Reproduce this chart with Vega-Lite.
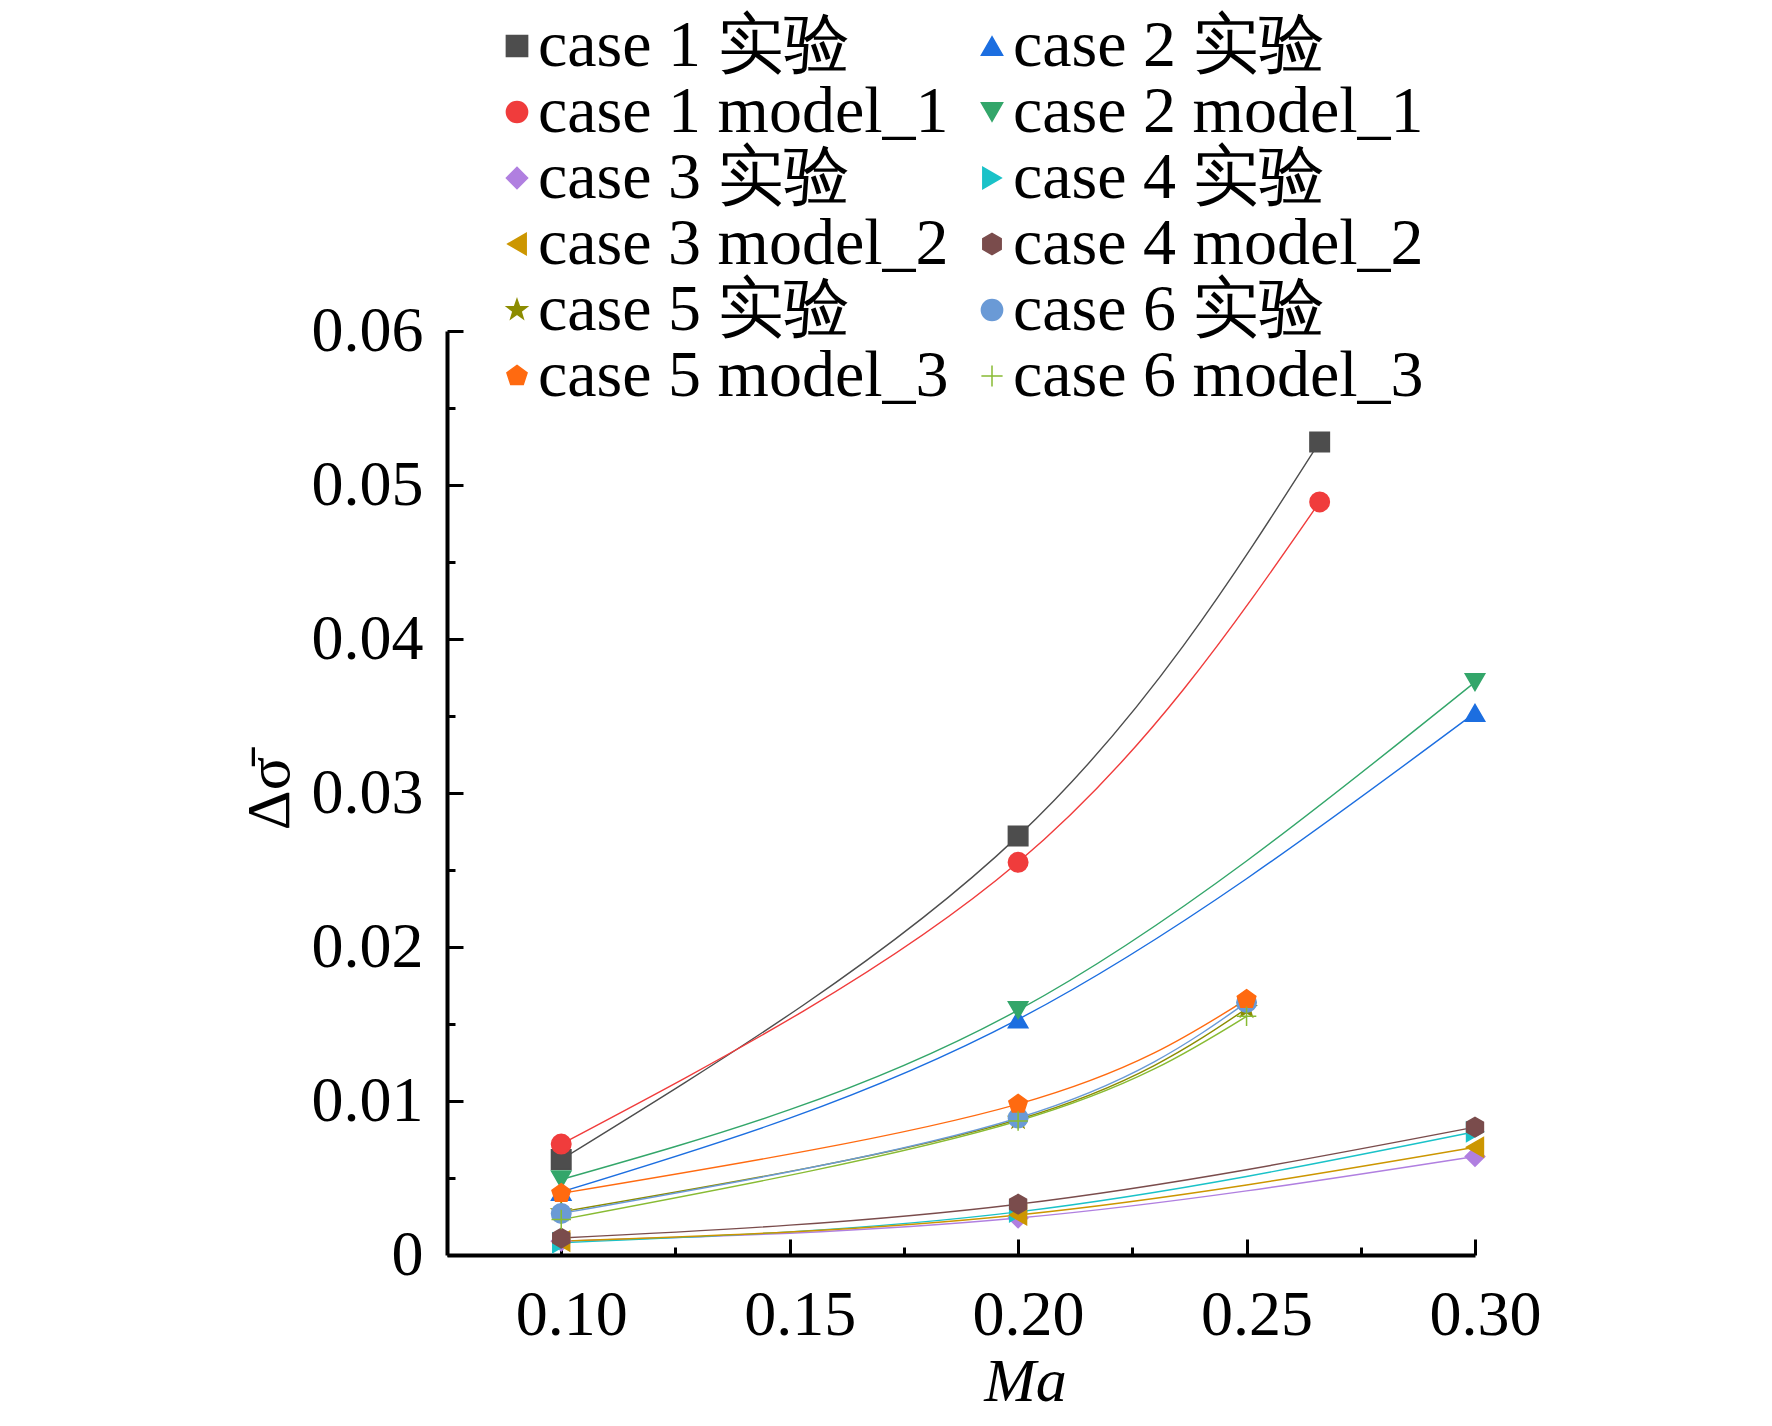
{
  "$schema": "https://vega.github.io/schema/vega-lite/v6.json",
  "autosize": "none",
  "width": 1028,
  "height": 924,
  "padding": {"left": 447, "top": 331, "right": 297, "bottom": 171},
  "background": "white",
  "config": {
    "view": {"stroke": null},
    "font": "Liberation Serif",
    "axis": {
      "grid": false,
      "domainColor": "black",
      "domainWidth": 4,
      "tickColor": "black",
      "tickWidth": 3,
      "labelFont": "Liberation Serif",
      "labelFontSize": 64,
      "labelColor": "black",
      "titleFont": "Liberation Serif",
      "titleFontSize": 62,
      "titleFontWeight": "normal",
      "titleColor": "black"
    }
  },
  "data": {
    "values": [
      {"series": "case 1 实验", "Ma": 0.10, "d": 0.0062},
      {"series": "case 1 实验", "Ma": 0.20, "d": 0.0272},
      {"series": "case 1 实验", "Ma": 0.266, "d": 0.0528},
      {"series": "case 2 实验", "Ma": 0.10, "d": 0.0041},
      {"series": "case 2 实验", "Ma": 0.20, "d": 0.0153},
      {"series": "case 2 实验", "Ma": 0.30, "d": 0.0352},
      {"series": "case 1 model_1", "Ma": 0.10, "d": 0.0072},
      {"series": "case 1 model_1", "Ma": 0.20, "d": 0.0255},
      {"series": "case 1 model_1", "Ma": 0.266, "d": 0.0489},
      {"series": "case 2 model_1", "Ma": 0.10, "d": 0.0049},
      {"series": "case 2 model_1", "Ma": 0.20, "d": 0.0159},
      {"series": "case 2 model_1", "Ma": 0.30, "d": 0.0372},
      {"series": "case 3 实验", "Ma": 0.10, "d": 0.0009},
      {"series": "case 3 实验", "Ma": 0.20, "d": 0.0024},
      {"series": "case 3 实验", "Ma": 0.30, "d": 0.0064},
      {"series": "case 4 实验", "Ma": 0.10, "d": 0.0008},
      {"series": "case 4 实验", "Ma": 0.20, "d": 0.0028},
      {"series": "case 4 实验", "Ma": 0.30, "d": 0.0080},
      {"series": "case 3 model_2", "Ma": 0.10, "d": 0.0009},
      {"series": "case 3 model_2", "Ma": 0.20, "d": 0.0026},
      {"series": "case 3 model_2", "Ma": 0.30, "d": 0.0070},
      {"series": "case 4 model_2", "Ma": 0.10, "d": 0.0011},
      {"series": "case 4 model_2", "Ma": 0.20, "d": 0.0033},
      {"series": "case 4 model_2", "Ma": 0.30, "d": 0.0083},
      {"series": "case 5 实验", "Ma": 0.10, "d": 0.0028},
      {"series": "case 5 实验", "Ma": 0.20, "d": 0.0088},
      {"series": "case 5 实验", "Ma": 0.25, "d": 0.0160},
      {"series": "case 6 实验", "Ma": 0.10, "d": 0.0027},
      {"series": "case 6 实验", "Ma": 0.20, "d": 0.0089},
      {"series": "case 6 实验", "Ma": 0.25, "d": 0.0164},
      {"series": "case 5 model_3", "Ma": 0.10, "d": 0.0040},
      {"series": "case 5 model_3", "Ma": 0.20, "d": 0.0098},
      {"series": "case 5 model_3", "Ma": 0.25, "d": 0.0166},
      {"series": "case 6 model_3", "Ma": 0.10, "d": 0.0023},
      {"series": "case 6 model_3", "Ma": 0.20, "d": 0.0087},
      {"series": "case 6 model_3", "Ma": 0.25, "d": 0.0155}
    ]
  },
  "encoding": {
    "x": {
      "field": "Ma",
      "type": "quantitative",
      "scale": {"domain": [0.075, 0.30], "nice": false, "zero": false},
      "axis": {
        "title": "Ma",
        "titleFontStyle": "italic",
        "titleX": 578,
        "titlePadding": -4,
        "values": [0.10, 0.125, 0.15, 0.175, 0.20, 0.225, 0.25, 0.275, 0.30],
        "labelExpr": "abs(datum.value * 20 - round(datum.value * 20)) < 0.001 ? format(datum.value, '.2f') : ''",
        "tickSize": {"condition": {"test": "abs(datum.value * 20 - round(datum.value * 20)) < 0.001", "value": -16}, "value": -8},
        "labelPadding": 44,
        "labelOffset": 10,
        "labelFlush": false,
        "labelOverlap": false
      }
    },
    "y": {
      "field": "d",
      "type": "quantitative",
      "scale": {"domain": [0, 0.06], "nice": false},
      "axis": {
        "title": "Δσ̄",
        "titlePadding": 10,
        "values": [0, 0.005, 0.01, 0.015, 0.02, 0.025, 0.03, 0.035, 0.04, 0.045, 0.05, 0.055, 0.06],
        "labelExpr": "datum.value == 0 ? '0' : (abs(datum.value * 100 - round(datum.value * 100)) < 0.001 ? format(datum.value, '.2f') : '')",
        "tickSize": {"condition": {"test": "abs(datum.value * 100 - round(datum.value * 100)) < 0.001", "value": -16}, "value": -8},
        "labelPadding": 40,
        "labelFlush": false,
        "labelOverlap": false
      }
    },
    "color": {
      "field": "series",
      "type": "nominal",
      "sort": null,
      "scale": {
        "domain": ["case 1 实验", "case 2 实验", "case 1 model_1", "case 2 model_1", "case 3 实验", "case 4 实验", "case 3 model_2", "case 4 model_2", "case 5 实验", "case 6 实验", "case 5 model_3", "case 6 model_3"],
        "range": ["#4d4d4d", "#1c6ee0", "#f03c3c", "#33a66a", "#b07fe0", "#1ac2c8", "#cc9600", "#7a4c4c", "#8c8c00", "#6a9ad6", "#ff6a10", "#88bb33"]
      },
      "legend": {
        "title": null,
        "orient": "none",
        "legendX": 37,
        "legendY": -318,
        "direction": "horizontal",
        "columns": 2,
        "columnPadding": 10,
        "rowPadding": 0,
        "labelFont": "Liberation Serif",
        "labelFontSize": 66,
        "labelColor": "black",
        "labelOffset": -12,
        "labelLimit": 0,
        "symbolSize": 450,
        "symbolStrokeWidth": 1.5,
        "encode": {"symbols": {"update": {"stroke": {"scale": "color", "field": "value"}}}}
      }
    }
  },
  "layer": [
    {
      "mark": {"type": "line", "interpolate": "natural", "strokeWidth": 1.4},
      "encoding": {"detail": {"field": "series"}}
    },
    {
      "mark": {"type": "point", "filled": true, "opacity": 1, "size": 380, "strokeWidth": 1.5},
      "encoding": {
        "stroke": {
          "field": "series",
          "type": "nominal",
          "scale": {
            "domain": ["case 1 实验", "case 2 实验", "case 1 model_1", "case 2 model_1", "case 3 实验", "case 4 实验", "case 3 model_2", "case 4 model_2", "case 5 实验", "case 6 实验", "case 5 model_3", "case 6 model_3"],
            "range": ["#4d4d4d", "#1c6ee0", "#f03c3c", "#33a66a", "#b07fe0", "#1ac2c8", "#cc9600", "#7a4c4c", "#8c8c00", "#6a9ad6", "#ff6a10", "#88bb33"]
          },
          "legend": null
        },
        "shape": {
          "field": "series",
          "type": "nominal",
          "scale": {
            "domain": ["case 1 实验", "case 2 实验", "case 1 model_1", "case 2 model_1", "case 3 实验", "case 4 实验", "case 3 model_2", "case 4 model_2", "case 5 实验", "case 6 实验", "case 5 model_3", "case 6 model_3"],
            "range": [
              "square",
              "triangle-up",
              "circle",
              "triangle-down",
              "diamond",
              "triangle-right",
              "triangle-left",
              "M0,-1L0.866,-0.5L0.866,0.5L0,1L-0.866,0.5L-0.866,-0.5Z",
              "M0,-1L0.235,-0.324L0.951,-0.309L0.38,0.124L0.588,0.809L0,0.4L-0.588,0.809L-0.38,0.124L-0.951,-0.309L-0.235,-0.324Z",
              "circle",
              "M0,-1L0.951,-0.309L0.588,0.809L-0.588,0.809L-0.951,-0.309Z",
              "M-1,0H1M0,-1V1"
            ]
          }
        }
      }
    }
  ]
}
